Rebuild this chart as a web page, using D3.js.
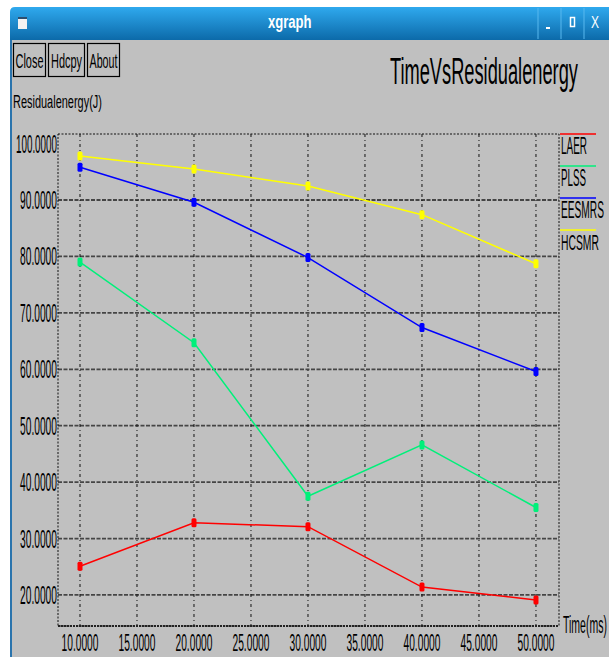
<!DOCTYPE html>
<html>
<head>
<meta charset="utf-8">
<script src="https://cdn.jsdelivr.net/npm/d3@7"></script>
<style>
  body { margin: 0; background: #fff; }
  svg { display: block; }
  text { font-family: "Liberation Sans", Arial, sans-serif; }
</style>
</head>
<body>
<div id="graph"></div>
<script>
// values
var times = [10, 20, 30, 40, 50];
var laer = [25.1, 32.8, 32.1, 21.4, 19.1];
var plss = [79.0, 64.7, 37.5, 46.6, 35.5];
var eesmrs = [95.8, 89.6, 79.8, 67.4, 59.6];
var hcsmr = [97.8, 95.5, 92.5, 87.4, 78.7];
var seriesNames = ["LAER", "PLSS", "EESMRS", "HCSMR"];
var seriesColors = ["#ff0000", "#00f07a", "#0000ff", "#ffff00"];
var xTicks = [10, 15, 20, 25, 30, 35, 40, 45, 50];
var yTicks = [20, 30, 40, 50, 60, 70, 80, 90, 100];

var W = 609, H = 657;
var svg = d3.select("#graph").append("svg").attr("width", W).attr("height", H);

// xgraph text is tall and very narrow: draw normally, then squeeze it
// horizontally to the wanted width with a scale transform
function squeeze(parent, str, px, py, size, w, anchor, fill) {
    var t = parent.append("text")
        .attr("font-size", size)
        .attr("fill", fill || "#000")
        .text(str);
    var natural = t.node().getComputedTextLength();
    var sx = w / natural;
    var dx = anchor === "end" ? -w : anchor === "middle" ? -w / 2 : 0;
    t.attr("transform", "translate(" + (px + dx) + "," + py + ") scale(" + sx + ",1)");
    return t;
}

// ---- window chrome ----
var defs = svg.append("defs");
var grad = defs.append("linearGradient").attr("id", "bar").attr("x1", 0).attr("y1", 0).attr("x2", 0).attr("y2", 1);
grad.append("stop").attr("offset", "0%").attr("stop-color", "#2fa9ee");
grad.append("stop").attr("offset", "100%").attr("stop-color", "#0c6aa9");

svg.append("rect").attr("x", 10).attr("y", 36).attr("width", W - 10).attr("height", H - 36).attr("fill", "#c0c0c0");
svg.append("path")
    .attr("d", "M10,40 L10,12 Q10,7 15,7 L609,7 L609,40 Z")
    .attr("fill", "url(#bar)");
svg.append("rect").attr("x", 10).attr("y", 40).attr("width", 2).attr("height", H - 40).attr("fill", "#2a74ad");

// little icon on the left of the title bar
svg.append("rect").attr("x", 18).attr("y", 17).attr("width", 9).attr("height", 12).attr("fill", "#f2f2f2");
svg.append("rect").attr("x", 18).attr("y", 17).attr("width", 9).attr("height", 2).attr("fill", "#2c4e6e");

squeeze(svg, "xgraph", 288, 28, 19, 40, "middle", "#fff").attr("font-weight", "bold");

// minimise / maximise / close
svg.selectAll("line.sep").data([538, 561, 584]).enter().append("line")
    .attr("class", "sep")
    .attr("x1", d => d).attr("x2", d => d).attr("y1", 8).attr("y2", 39)
    .attr("stroke", "#58b8ee").attr("stroke-width", 1);
svg.append("rect").attr("x", 546).attr("y", 27).attr("width", 4).attr("height", 2).attr("fill", "#fff");
svg.append("rect").attr("x", 570.5).attr("y", 17.5).attr("width", 4).attr("height", 9).attr("fill", "none").attr("stroke", "#fff").attr("stroke-width", 1.5);
squeeze(svg, "X", 595, 28, 16, 8, "middle", "#fff");

// Close / Hdcpy / About buttons
var buttons = [
    {label: "Close", x: 13, w: 32, tw: 28},
    {label: "Hdcpy", x: 48, w: 36, tw: 31},
    {label: "About", x: 87, w: 32, tw: 28}
];
buttons.forEach(function (b) {
    var g = svg.append("g");
    g.append("rect")
        .attr("x", b.x + 0.5).attr("y", 43.5)
        .attr("width", b.w).attr("height", 33)
        .attr("fill", "#c0c0c0").attr("stroke", "#000").attr("stroke-width", 1.2);
    squeeze(g, b.label, b.x + b.w / 2 + 0.5, 68, 21, b.tw, "middle");
});

squeeze(svg, "TimeVsResidualenergy", 390, 84, 36, 188, "start");
squeeze(svg, "Residualenergy(J)", 13, 108, 19, 89, "start");

// ---- plot ----
var x = d3.scaleLinear().domain([8.07, 52.02]).range([58, 559]);
var y = d3.scaleLinear().domain([14.5, 101.7]).range([626, 134]);
var fmt = d3.format(".4f");

var grid = svg.append("g");
// horizontal grid (heavier dashed)
grid.selectAll("line.h").data(yTicks.filter(v => v < 100)).enter().append("line")
    .attr("class", "h")
    .attr("x1", x.range()[0]).attr("x2", x.range()[1])
    .attr("y1", d => y(d)).attr("y2", d => y(d))
    .attr("stroke", "#303030").attr("stroke-width", 1.8)
    .attr("stroke-dasharray", "4,1.5").attr("opacity", 0.85);
// vertical grid (dash-dot)
grid.selectAll("line.v").data(xTicks).enter().append("line")
    .attr("class", "v")
    .attr("x1", d => x(d)).attr("x2", d => x(d))
    .attr("y1", y.range()[1]).attr("y2", y.range()[0])
    .attr("stroke", "#111").attr("stroke-width", 1)
    .attr("stroke-dasharray", "3,3,1,3");

// frame
grid.append("rect")
    .attr("x", x.range()[0]).attr("y", y.range()[1])
    .attr("width", x.range()[1] - x.range()[0]).attr("height", y.range()[0] - y.range()[1])
    .attr("fill", "none").attr("stroke", "#111").attr("stroke-width", 1)
    .attr("stroke-dasharray", "2,1.5");
grid.append("line")
    .attr("x1", x.range()[0]).attr("x2", x.range()[1])
    .attr("y1", y.range()[0]).attr("y2", y.range()[0])
    .attr("stroke", "#222").attr("stroke-width", 2).attr("stroke-dasharray", "2,1");

// tick labels
yTicks.forEach(function (v) {
    squeeze(svg, fmt(v), 57, y(v) + 9, 26, v >= 100 ? 41 : 37, "end");
});
xTicks.forEach(function (v) {
    squeeze(svg, fmt(v), x(v), 651, 24, 37, "middle");
});
squeeze(svg, "Time(ms)", 563, 633, 24, 44, "start");

// series
var allSeries = [laer, plss, eesmrs, hcsmr].map((vals, i) => ({
    name: seriesNames[i],
    color: seriesColors[i],
    points: vals.map((v, j) => ({t: times[j], v: v}))
}));

var line = d3.line().x(d => x(d.t)).y(d => y(d.v));

var sg = svg.selectAll("g.series").data(allSeries).enter().append("g").attr("class", "series");
sg.append("path")
    .attr("d", d => line(d.points))
    .attr("fill", "none")
    .attr("stroke", d => d.color)
    .attr("stroke-width", 1.5);
sg.each(function (s) {
    d3.select(this).selectAll("rect").data(s.points).enter().append("rect")
        .attr("x", d => x(d.t) - 2.5).attr("y", d => y(d.v) - 4.5)
        .attr("width", 5).attr("height", 9)
        .attr("rx", 1.5)
        .attr("fill", s.color);
});

// legend on the right
var legW = [26, 25, 43, 38];
allSeries.forEach(function (s, i) {
    var g = svg.append("g").attr("transform", "translate(560," + (134 + i * 32) + ")");
    g.append("line").attr("x1", 0).attr("x2", 36).attr("y1", 0).attr("y2", 0)
        .attr("stroke", s.color).attr("stroke-width", 1.5);
    squeeze(g, s.name, 1, 20, 23, legW[i], "start");
});
</script>
</body>
</html>
